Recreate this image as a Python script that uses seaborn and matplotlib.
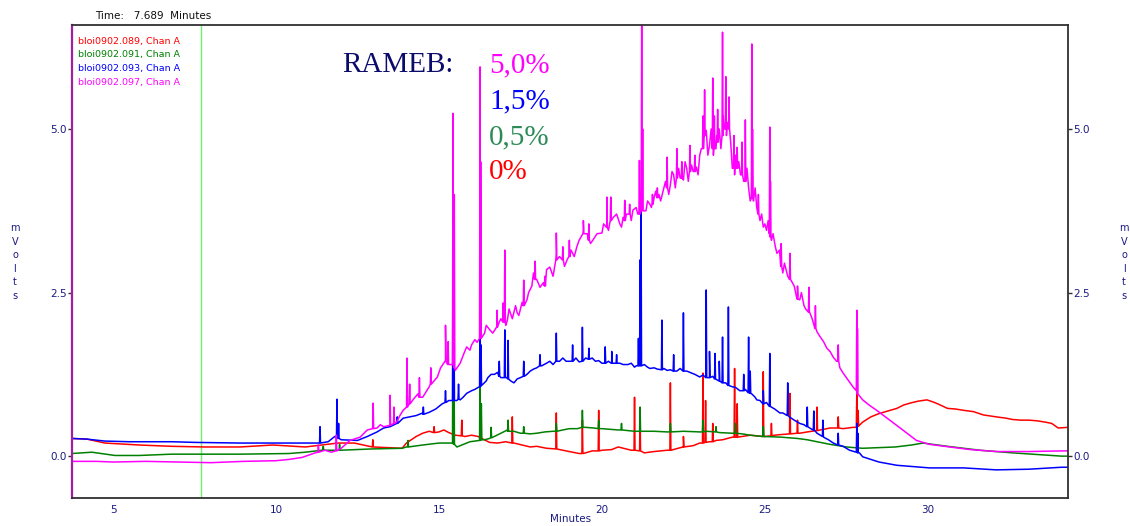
import numpy as np
import pandas as pd
import matplotlib
matplotlib.use("Agg")
import matplotlib.pyplot as plt
import seaborn as sns

# ---------------- data ----------------
series_names = ["bloi0902.089, Chan A", "bloi0902.091, Chan A",
                "bloi0902.093, Chan A", "bloi0902.097, Chan A"]
series_colors = ["#ff0000", "#008000", "#0000ff", "#ff00ff"]
rameb_labels = ["5,0%", "1,5%", "0,5%", "0%"]
rameb_colors = ["#ff00ff", "#0000ff", "#2e8b57", "#ff0000"]
x_ticks = [5, 10, 15, 20, 25, 30]
y_ticks = [0.0, 2.5, 5.0]
y_tick_labels = ["0.0", "2.5", "5.0"]
marker_time = 7.689

# baseline points (minutes, mV)
red_base = [(3.74, 0.27), (4.2, 0.26), (4.75, 0.2), (5.8, 0.17), (6.8, 0.15), (7.8, 0.14),
            (8.9, 0.14), (9.9, 0.17), (10.9, 0.14), (11.9, 0.2), (12.4, 0.2), (12.95, 0.14),
            (13.87, 0.12), (14.0, 0.2), (14.5, 0.35), (15.0, 0.37), (15.3, 0.36), (15.5, 0.32),
            (15.8, 0.3), (16.2, 0.3), (16.55, 0.21), (16.8, 0.2), (17.3, 0.2), (17.8, 0.14),
            (18.3, 0.12), (18.7, 0.1), (19.3, 0.04), (19.5, 0.05), (20.0, 0.09), (20.5, 0.14),
            (20.9, 0.09), (21.3, 0.05), (22.0, 0.09), (22.5, 0.14), (23.0, 0.2), (23.3, 0.22),
            (23.7, 0.25), (24.0, 0.29), (24.55, 0.32), (25.0, 0.3), (25.5, 0.33), (26.07, 0.35),
            (26.7, 0.4), (27.0, 0.43), (27.7, 0.44), (28.0, 0.52), (28.5, 0.65), (29.05, 0.73),
            (29.45, 0.81), (29.97, 0.86), (30.3, 0.8), (30.6, 0.73), (31.1, 0.7), (31.7, 0.63),
            (32.1, 0.6), (32.6, 0.56), (33.1, 0.55), (33.6, 0.52), (34.0, 0.43), (34.3, 0.44)]
red_noise = [(14.3, 0.3), (14.7, 0.38), (15.15, 0.4), (16.0, 0.32), (17.05, 0.22), (18.0, 0.15),
             (19.0, 0.07), (19.7, 0.08), (20.3, 0.1), (21.6, 0.07), (22.8, 0.16), (23.5, 0.24),
             (24.3, 0.3), (25.3, 0.32), (26.3, 0.37), (27.4, 0.42), (28.25, 0.6), (29.25, 0.78),
             (29.7, 0.84), (30.15, 0.83), (30.85, 0.72), (31.4, 0.68), (32.4, 0.58), (32.85, 0.55),
             (33.35, 0.54), (33.8, 0.5)]
red_spikes = [(12.97, 0.25, 0.14), (14.85, 0.45, 0.36), (15.7, 0.55, 0.31), (17.25, 0.6, 0.2),
              (18.6, 0.66, 0.11), (19.4, 0.55, 0.04), (19.9, 0.7, 0.08), (21.0, 0.9, 0.09),
              (21.17, 0.6, 0.08), (22.1, 1.12, 0.09), (22.5, 0.3, 0.14), (23.1, 1.27, 0.2),
              (23.18, 0.85, 0.21), (23.4, 0.5, 0.22), (24.07, 1.34, 0.29), (24.15, 0.8, 0.29),
              (24.95, 1.29, 0.3), (25.2, 0.5, 0.31), (25.77, 0.96, 0.34), (26.0, 0.55, 0.35),
              (26.6, 0.75, 0.39), (27.25, 0.6, 0.43), (27.82, 0.98, 0.44), (27.86, 0.7, 0.46)]

green_base = [(3.74, 0.04), (4.35, 0.06), (5.06, 0.01), (5.8, 0.01), (6.8, 0.03), (8.9, 0.03),
              (10.4, 0.04), (10.9, 0.06), (11.4, 0.09), (11.9, 0.09), (12.95, 0.11), (13.87, 0.12),
              (14.0, 0.14), (14.5, 0.17), (15.0, 0.2), (15.35, 0.2), (15.55, 0.14), (15.95, 0.22),
              (16.4, 0.25), (16.55, 0.27), (17.1, 0.4), (17.5, 0.35), (18.0, 0.35), (18.5, 0.38),
              (19.0, 0.42), (19.5, 0.44), (20.0, 0.42), (20.5, 0.4), (21.0, 0.38), (21.3, 0.38),
              (22.0, 0.37), (23.0, 0.37), (23.2, 0.38), (24.0, 0.35), (24.55, 0.32), (25.0, 0.3),
              (26.0, 0.27), (26.5, 0.23), (27.0, 0.18), (27.5, 0.14), (28.0, 0.12), (29.0, 0.14),
              (29.5, 0.17), (29.85, 0.2), (30.6, 0.15), (31.6, 0.09), (32.6, 0.05), (34.1, 0.0),
              (34.3, 0.0)]
green_noise = [(16.9, 0.35), (17.3, 0.38), (17.8, 0.34), (18.25, 0.37), (18.8, 0.4), (19.25, 0.42),
               (19.75, 0.43), (20.25, 0.41), (20.8, 0.39), (21.6, 0.38), (22.5, 0.38), (23.6, 0.36),
               (24.3, 0.34), (25.5, 0.29), (26.3, 0.25)]
green_spikes = [(11.45, 0.15, 0.09), (11.95, 0.18, 0.09), (14.05, 0.24, 0.14), (15.43, 2.43, 0.2),
                (15.46, 1.5, 0.18), (16.26, 1.42, 0.24), (16.3, 0.8, 0.25), (16.6, 0.44, 0.28),
                (17.12, 0.55, 0.38), (17.6, 0.45, 0.35), (18.6, 0.5, 0.38), (19.4, 0.7, 0.44),
                (19.9, 0.55, 0.42), (20.6, 0.5, 0.4), (21.17, 0.75, 0.38), (22.1, 0.5, 0.37),
                (23.1, 0.55, 0.37), (23.5, 0.45, 0.37), (24.1, 0.5, 0.35), (24.95, 0.45, 0.3)]

blue_base = [(3.74, 0.27), (4.2, 0.26), (4.75, 0.23), (5.5, 0.22), (6.8, 0.22), (7.5, 0.21),
             (8.9, 0.2), (10.0, 0.2), (10.9, 0.2), (11.2, 0.2), (11.6, 0.22), (11.8, 0.3),
             (12.0, 0.25), (12.5, 0.24), (12.8, 0.3), (13.1, 0.37), (13.5, 0.45), (13.9, 0.58),
             (14.3, 0.62), (14.7, 0.67), (15.1, 0.8), (15.3, 0.85), (15.55, 0.85), (15.74, 0.9),
             (16.0, 1.0), (16.2, 1.05), (16.35, 1.1), (16.5, 1.2), (16.7, 1.25), (16.9, 1.2),
             (17.1, 1.2), (17.3, 1.12), (17.5, 1.2), (17.8, 1.3), (18.0, 1.35), (18.3, 1.42),
             (18.7, 1.45), (19.0, 1.45), (19.3, 1.44), (19.5, 1.5), (19.8, 1.45), (20.0, 1.42),
             (20.3, 1.42), (20.55, 1.42), (20.8, 1.4), (21.0, 1.36), (21.3, 1.4), (21.47, 1.34),
             (21.7, 1.33), (22.0, 1.31), (22.3, 1.3), (22.6, 1.3), (23.0, 1.21), (23.3, 1.2),
             (23.6, 1.15), (24.0, 1.06), (24.23, 1.0), (24.6, 0.95), (24.75, 0.86), (24.95, 0.8),
             (25.2, 0.75), (25.46, 0.66), (25.75, 0.6), (26.07, 0.5), (26.47, 0.4), (26.8, 0.29),
             (27.1, 0.2), (27.4, 0.15), (27.6, 0.09), (27.9, 0.05), (28.0, -0.01), (28.5, -0.09),
             (29.05, -0.14), (30.05, -0.18), (31.1, -0.18), (32.1, -0.21), (33.1, -0.2),
             (34.1, -0.17), (34.3, -0.17)]
blue_noise = [(13.3, 0.43), (13.7, 0.5), (14.1, 0.6), (14.5, 0.66), (14.9, 0.72), (15.65, 0.86),
              (15.85, 0.96), (16.1, 1.02), (16.45, 1.15), (16.6, 1.25), (16.8, 1.28), (17.2, 1.15),
              (17.4, 1.18), (17.7, 1.25), (17.9, 1.33), (18.15, 1.38), (18.4, 1.45), (18.5, 1.4),
              (18.8, 1.5), (18.9, 1.45), (19.2, 1.5), (19.7, 1.5), (19.9, 1.46), (20.2, 1.45),
              (20.65, 1.4), (20.9, 1.42), (21.05, 1.38), (21.4, 1.36), (21.6, 1.35), (21.9, 1.34),
              (22.1, 1.32), (22.4, 1.34), (22.7, 1.28), (22.85, 1.25), (23.1, 1.24), (23.4, 1.22),
              (23.8, 1.12), (24.1, 1.05), (24.4, 1.02), (24.7, 0.9), (24.85, 0.85), (25.05, 0.82),
              (25.3, 0.72), (25.55, 0.66), (25.9, 0.55), (26.2, 0.48), (26.6, 0.35), (26.95, 0.25)]
blue_spikes = [(11.35, 0.45, 0.2), (11.87, 0.87, 0.28), (11.92, 0.5, 0.27), (13.72, 0.6, 0.5),
               (14.52, 0.75, 0.64), (15.2, 1.0, 0.82), (15.43, 3.27, 0.85), (15.46, 2.0, 0.85),
               (15.6, 1.1, 0.87), (16.26, 2.34, 1.06), (16.29, 1.7, 1.08), (16.85, 1.45, 1.22),
               (17.02, 1.93, 1.2), (17.12, 1.77, 1.18), (17.6, 1.45, 1.22), (18.1, 1.55, 1.38),
               (18.6, 1.88, 1.45), (19.1, 1.7, 1.45), (19.4, 1.97, 1.45), (19.6, 1.65, 1.48),
               (20.1, 1.67, 1.42), (20.3, 1.6, 1.42), (20.45, 1.55, 1.42), (21.12, 1.8, 1.38),
               (21.17, 3.0, 1.38), (21.2, 3.79, 1.38), (21.84, 2.08, 1.32), (22.2, 1.55, 1.3),
               (22.5, 2.19, 1.3), (23.2, 2.54, 1.2), (23.3, 1.6, 1.2), (23.47, 1.57, 1.18),
               (23.6, 1.45, 1.15), (23.7, 1.82, 1.12), (23.88, 2.28, 1.08), (24.35, 1.25, 1.0),
               (24.5, 1.82, 0.97), (24.55, 1.3, 0.96), (24.95, 1.0, 0.8), (25.15, 1.57, 0.76),
               (25.7, 1.12, 0.62), (26.3, 0.75, 0.45), (26.5, 0.69, 0.4), (26.78, 0.55, 0.3),
               (27.25, 0.35, 0.17), (27.82, 0.5, 0.06), (27.85, 0.35, 0.05)]

mag_base = [(3.74, -0.08), (4.5, -0.08), (5.0, -0.09), (6.0, -0.08), (7.0, -0.09), (8.0, -0.1),
            (9.0, -0.08), (10.0, -0.07), (10.4, -0.05), (10.8, -0.02), (11.2, 0.05), (11.5, 0.09),
            (11.7, 0.06), (12.0, 0.12), (12.27, 0.24), (12.58, 0.29), (12.8, 0.4), (13.1, 0.43),
            (13.3, 0.45), (13.5, 0.47), (13.7, 0.52), (13.9, 0.7), (14.2, 0.86), (14.5, 0.9),
            (14.7, 1.06), (14.95, 1.21), (15.2, 1.47), (15.5, 1.31), (15.65, 1.42), (15.85, 1.67),
            (16.0, 1.7), (16.17, 1.74), (16.4, 1.88), (16.56, 1.93), (16.78, 1.97), (16.9, 2.1),
            (17.1, 2.08), (17.4, 2.19), (17.7, 2.39), (17.9, 2.8), (18.1, 2.58), (18.4, 2.89),
            (18.6, 3.1), (18.93, 3.0), (19.23, 3.2), (19.43, 3.46), (19.72, 3.3), (20.0, 3.41),
            (20.15, 3.5), (20.35, 3.65), (20.55, 3.55), (20.75, 3.7), (20.95, 3.76), (21.1, 3.7),
            (21.35, 3.75), (21.47, 3.85), (21.6, 3.95), (21.75, 4.0), (21.9, 4.1), (22.1, 4.15),
            (22.2, 4.3), (22.4, 4.25), (22.5, 4.22), (22.6, 4.4), (22.8, 4.35), (22.9, 4.42),
            (23.0, 4.6), (23.2, 4.98), (23.3, 4.75), (23.5, 4.7), (23.6, 5.0), (23.75, 5.0),
            (23.85, 5.1), (24.0, 4.4), (24.1, 4.6), (24.25, 4.3), (24.5, 4.1), (24.65, 3.9),
            (24.75, 3.8), (24.85, 3.6), (24.95, 3.5), (25.05, 3.45), (25.2, 3.3), (25.37, 3.1),
            (25.55, 2.8), (25.8, 2.69), (26.07, 2.39), (26.2, 2.3), (26.38, 2.19), (26.7, 1.82),
            (26.9, 1.65), (27.1, 1.51), (27.4, 1.27), (27.7, 1.06), (28.0, 0.86), (28.2, 0.78),
            (28.43, 0.7), (28.83, 0.55), (29.23, 0.4), (29.65, 0.24), (30.05, 0.18), (30.67, 0.14),
            (31.3, 0.1), (32.1, 0.07), (33.1, 0.07), (34.1, 0.08), (34.3, 0.08)]
mag_noise = [(13.2, 0.48), (13.8, 0.62), (14.35, 0.95), (14.6, 0.98), (14.85, 1.15), (15.05, 1.35),
             (15.75, 1.55), (15.95, 1.62), (16.1, 1.78), (16.45, 2.0), (16.65, 1.88), (16.85, 2.05),
             (17.05, 2.0), (17.15, 2.25), (17.25, 2.1), (17.35, 2.3), (17.45, 2.15), (17.55, 2.35),
             (17.75, 2.5), (17.85, 2.6), (18.0, 2.7), (18.2, 2.65), (18.3, 2.85), (18.5, 2.75),
             (18.7, 3.05), (18.85, 2.9), (19.05, 3.15), (19.15, 3.05), (19.3, 3.3), (19.55, 3.4),
             (19.65, 3.25), (19.85, 3.4), (20.05, 3.55), (20.2, 3.45), (20.45, 3.7), (20.6, 3.5),
             (20.65, 3.65), (20.9, 3.6), (21.05, 3.8), (21.4, 3.9), (21.52, 3.8), (21.65, 4.05),
             (21.8, 3.9), (21.95, 4.2), (22.05, 4.0), (22.15, 4.35), (22.25, 4.1), (22.35, 4.4),
             (22.55, 4.5), (22.65, 4.2), (22.75, 4.45), (22.95, 4.3), (23.05, 4.7), (23.25, 4.6),
             (23.35, 5.0), (23.42, 4.6), (23.52, 4.9), (23.65, 4.7), (23.72, 5.2), (23.82, 4.9),
             (23.95, 4.8), (24.07, 4.3), (24.2, 4.5), (24.35, 4.2), (24.45, 4.4), (24.55, 3.9),
             (24.7, 4.1), (24.9, 3.7), (25.0, 3.55), (25.1, 3.6), (25.25, 3.4), (25.32, 3.2),
             (25.45, 3.15), (25.6, 2.95), (25.7, 2.75), (25.9, 2.6), (26.0, 2.45), (26.12, 2.5),
             (26.25, 2.25), (26.45, 2.1), (26.6, 1.9), (26.8, 1.75), (27.0, 1.6), (27.2, 1.45),
             (27.3, 1.35)]
mag_spikes = [(11.3, 0.17, 0.06), (11.85, 0.32, 0.08), (12.98, 0.81, 0.42), (13.5, 0.93, 0.47),
              (13.62, 0.75, 0.5), (14.02, 1.5, 0.75), (14.1, 1.1, 0.8), (14.4, 1.2, 0.9),
              (14.75, 1.35, 1.1), (15.2, 2.0, 1.45), (15.28, 1.75, 1.4), (15.43, 5.24, 1.4),
              (15.47, 4.0, 1.35), (16.26, 5.95, 1.8), (16.28, 4.5, 1.8), (16.78, 2.23, 1.97),
              (16.97, 2.34, 2.05), (17.02, 3.15, 2.05), (17.6, 2.69, 2.3), (17.95, 2.98, 2.7),
              (18.25, 2.75, 2.6), (18.6, 3.41, 3.0), (18.8, 3.2, 3.0), (19.0, 3.3, 3.05),
              (19.43, 3.6, 3.4), (19.6, 3.55, 3.3), (20.15, 3.96, 3.5), (20.27, 3.96, 3.6),
              (20.7, 3.91, 3.6), (20.85, 3.85, 3.7), (21.15, 4.52, 3.7), (21.22, 6.8, 3.75),
              (21.25, 5.0, 3.75), (21.55, 4.0, 3.85), (21.7, 4.1, 3.95), (22.0, 4.57, 4.1),
              (22.3, 4.7, 4.25), (22.45, 4.5, 4.25), (22.7, 4.75, 4.35), (22.85, 4.6, 4.35),
              (23.1, 5.2, 4.7), (23.15, 5.6, 4.9), (23.4, 5.78, 4.7), (23.45, 5.2, 4.7),
              (23.55, 5.3, 4.8), (23.7, 6.48, 4.9), (23.8, 5.8, 5.0), (23.9, 5.49, 5.0),
              (24.05, 4.9, 4.4), (24.15, 4.72, 4.4), (24.3, 4.8, 4.3), (24.4, 5.14, 4.2),
              (24.6, 6.3, 3.95), (24.62, 5.0, 3.95), (24.8, 4.0, 3.7), (25.15, 5.03, 3.4),
              (25.17, 4.2, 3.35), (25.5, 3.25, 2.9), (25.77, 3.1, 2.7), (26.0, 2.6, 2.4),
              (26.35, 2.58, 2.2), (26.55, 2.3, 1.95), (27.25, 1.7, 1.45), (27.82, 2.23, 1.0),
              (27.84, 1.95, 0.95)]


def build(name, base, noise, spikes, half_width=0.015):
    pts = list(base) + list(noise)
    for t, top, b in spikes:
        pts += [(t - half_width, b), (t, top), (t + half_width, b)]
    pts.sort(key=lambda p: p[0])
    return pd.DataFrame({"t": [p[0] for p in pts], "v": [p[1] for p in pts], "series": name})


df = pd.concat([
    build(series_names[0], red_base, red_noise, red_spikes),
    build(series_names[1], green_base, green_noise, green_spikes),
    build(series_names[2], blue_base, blue_noise, blue_spikes),
    build(series_names[3], mag_base, mag_noise, mag_spikes),
], ignore_index=True)

# ---------------- figure ----------------
sns.set_style("white")
plt.rcParams["font.family"] = ["DejaVu Sans"]
W, H = 1130, 526
fig = plt.figure(figsize=(W / 100, H / 100), dpi=100)
L, R, T, B = 72, 1068, 25, 498
ax = fig.add_axes([L / W, 1 - B / H, (R - L) / W, (B - T) / H])

ax.axvline(marker_time, color="#70f070", lw=1.0, zorder=1)

for name, col in zip(series_names, series_colors):
    sub = df[df["series"] == name]
    sns.lineplot(data=sub, x="t", y="v", color=col, estimator=None, sort=False,
                 linewidth=1.1, ax=ax, legend=False, zorder=2)

ax.set_xlim(3.74, 34.3)
ax.set_ylim(-0.64, 6.59)
ax.set_xticks(x_ticks)
ax.set_yticks(y_ticks)
ax.set_yticklabels(y_tick_labels)
ax.set_xlabel("")
ax.set_ylabel("")
navy = "#1a1a80"
ax.tick_params(axis="x", direction="out", length=3, width=1, color="#303030",
               labelcolor=navy, labelsize=7.5, pad=2)
ax.tick_params(axis="y", direction="out", length=3, width=1, color="#303030",
               labelcolor=navy, labelsize=7.5, pad=1, left=True, right=True,
               labelleft=True, labelright=True)
for s in ["top", "right", "bottom"]:
    ax.spines[s].set_color("#303030")
    ax.spines[s].set_linewidth(1.3)
ax.spines["left"].set_color("#a020a0")
ax.spines["left"].set_linewidth(1.6)
ax.grid(False)

# header and channel legend
fig.text(95 / W, 1 - 16 / H, "Time:   7.689  Minutes", fontsize=7.5, color="#101010",
         ha="left", va="center")
for i, (name, col) in enumerate(zip(series_names, series_colors)):
    fig.text(78 / W, 1 - (41 + 13.7 * i) / H, name, fontsize=6.8, color=col,
             ha="left", va="center")

# axis labels
fig.text(571 / W, 1 - 519 / H, "Minutes", fontsize=7.5, color=navy, ha="center", va="center")
for xp in (15, 1124):
    fig.text(xp / W, 1 - 262 / H, "m\nV\no\nl\nt\ns", fontsize=7, color=navy,
             ha="center", va="center", linespacing=1.45)

# RAMEB annotation
serif = ["Liberation Serif", "DejaVu Serif"]
fig.text(342 / W, 1 - 65 / H, "RAMEB:", fontsize=21, color="#0b0b6b", family=serif,
         ha="left", va="center")
ys = [65, 101, 137, 172]
for lab, col, yy in zip(rameb_labels, rameb_colors, ys):
    fig.text(489 / W, 1 - yy / H, lab, fontsize=21, color=col, family=serif,
             ha="left", va="center")

fig.savefig("out.png", dpi=100, facecolor="white")
